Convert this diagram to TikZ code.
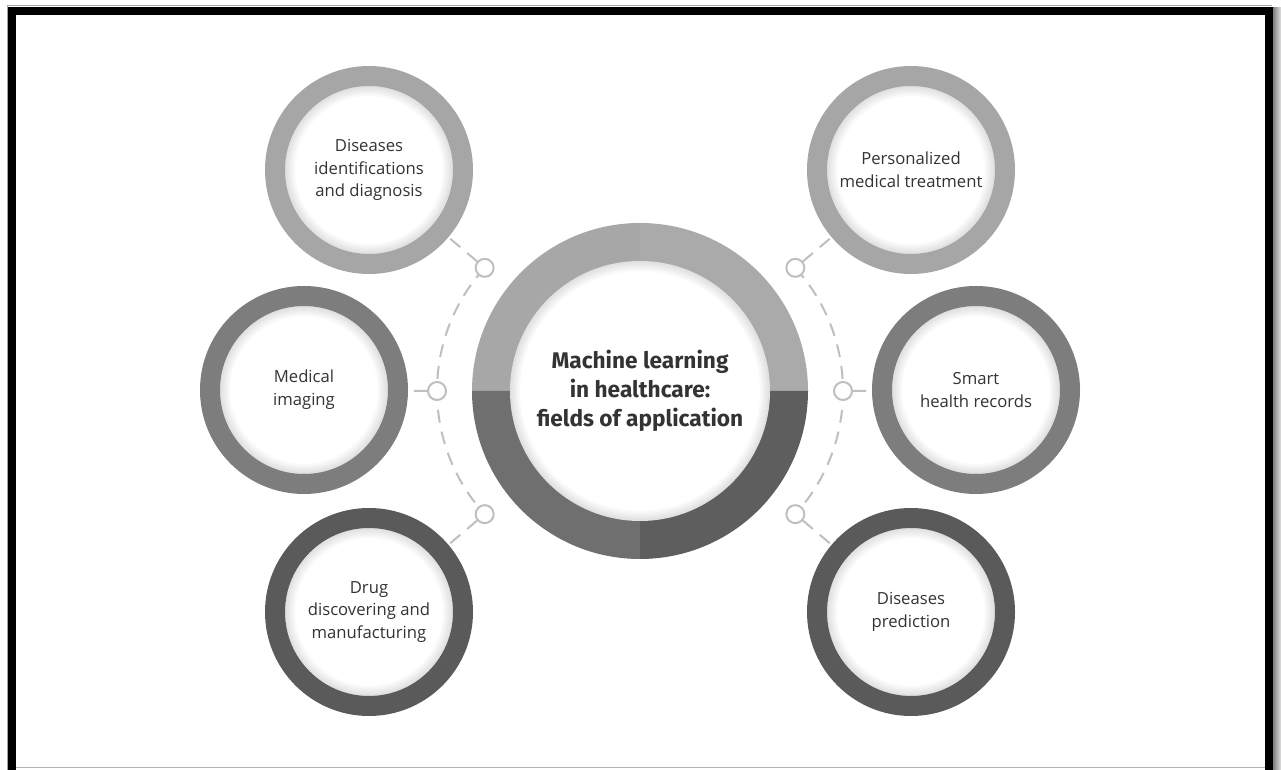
\documentclass[tikz,border=0pt]{standalone}
\usepackage{fontspec}
\setmainfont{Open Sans}
\newfontfamily\hubfont{Fira Sans}
\usetikzlibrary{calc}

\definecolor{txt}{HTML}{333333}
\definecolor{qTL}{HTML}{A7A7A7}
\definecolor{qTR}{HTML}{AAAAAA}
\definecolor{qBL}{HTML}{6F6F6F}
\definecolor{qBR}{HTML}{5E5E5E}
\definecolor{ringLight}{HTML}{A6A6A6}
\definecolor{ringMid}{HTML}{7D7D7D}
\definecolor{ringDark}{HTML}{5A5A5A}
\definecolor{link}{HTML}{BFBFBF}

\pgfdeclarelayer{paper}
\pgfdeclarelayer{links}
\pgfsetlayers{paper,links,main}

\tikzset{
  % soft shadow just inside a white disc of the given radius
  innershade/.style={
    path picture={
      \foreach \w in {3pt,6pt,9pt,12pt,15pt}
        \draw[black, draw opacity=0.022, line width=\w]
          (path picture bounding box.center) circle[radius=#1];
    }
  },
  field/.style={
    circle, draw=#1, line width=15pt, fill=white,
    minimum size=141pt, inner sep=0pt, outer sep=7.5pt,
    align=center, text=txt, font=\fontsize{12.5}{17}\selectfont,
    innershade=63pt
  },
  hub/.style={
    circle, fill=white, minimum size=195pt, inner sep=0pt,
    align=center, text=txt,
    font=\hubfont\bfseries\fontsize{17}{21.75}\selectfont,
    innershade=97.5pt
  },
  dot/.style={
    circle, draw=link, line width=1.5pt, fill=white,
    minimum size=13.5pt, inner sep=0pt
  },
  dashline/.style={
    draw=link, line width=1.5pt, dash pattern=on 9.75pt off 6.75pt
  }
}

\begin{document}
\begin{tikzpicture}[x=0.75pt, y=0.75pt]
\useasboundingbox (0,0) rectangle (1281,770);

\begin{pgfonlayer}{paper}
  \fill[white] (0,0) rectangle (1281,770);
  % page frame with its edge shadow
  \shade[left color=black!55, right color=black!12] (1272,0) rectangle (1281,762);
  \draw[black!35, line width=0.75pt] (7,0) -- (7,764) -- (1272,764);
  \draw[black!30, line width=0.75pt] (16,2) -- (1265,2);
  \draw[black, line width=6pt] (12,-30) -- (12,759) -- (1268.5,759) -- (1268.5,-30);
\end{pgfonlayer}

% central ring, four quarters
\fill[qTL] (640,379) -- (640,547) arc[start angle=90, end angle=180, radius=126pt] -- cycle;
\fill[qTR] (640,379) -- (808,379) arc[start angle=0, end angle=90, radius=126pt] -- cycle;
\fill[qBL] (640,379) -- (472,379) arc[start angle=180, end angle=270, radius=126pt] -- cycle;
\fill[qBR] (640,379) -- (640,211) arc[start angle=270, end angle=360, radius=126pt] -- cycle;

\node[hub] (hub) at (640,379) {Machine learning\\in healthcare:\\fields of application};

% application fields
\node[field=ringLight] (tl) at (369,600) {Diseases\\identifications\\and diagnosis};
\node[field=ringMid]   (ml) at (304,380) {Medical\\imaging};
\node[field=ringDark]  (bl) at (369,158) {Drug\\discovering and\\manufacturing};
\node[field=ringLight] (tr) at (911,600) {Personalized\\medical treatment};
\node[field=ringMid]   (mr) at (976,380) {Smart\\health records};
\node[field=ringDark]  (br) at (911,158) {Diseases\\prediction};

% junction dots on the two dashed arcs
\node[dot] (l1) at ($(620,379)+(137.7:137.25pt)$) {};
\node[dot] (l2) at ($(620,379)+(180:137.25pt)$) {};
\node[dot] (l3) at ($(620,379)+(222.3:137.25pt)$) {};
\node[dot] (r1) at ($(660,379)+(42.3:137.25pt)$) {};
\node[dot] (r2) at ($(660,379)+(0:137.25pt)$) {};
\node[dot] (r3) at ($(660,379)+(-42.3:137.25pt)$) {};

\begin{pgfonlayer}{links}
  \draw[dashline] (l1.center) arc[start angle=137.7, end angle=222.3, radius=137.25pt];
  \draw[dashline] (r1.center) arc[start angle=42.3, end angle=-42.3, radius=137.25pt];
  \draw[dashline] (l1) -- (tl);
  \draw[dashline] (l2) -- (ml);
  \draw[dashline] (l3) -- (bl);
  \draw[dashline] (r1) -- (tr);
  \draw[dashline] (r2) -- (mr);
  \draw[dashline] (r3) -- (br);
\end{pgfonlayer}
\end{tikzpicture}
\end{document}
